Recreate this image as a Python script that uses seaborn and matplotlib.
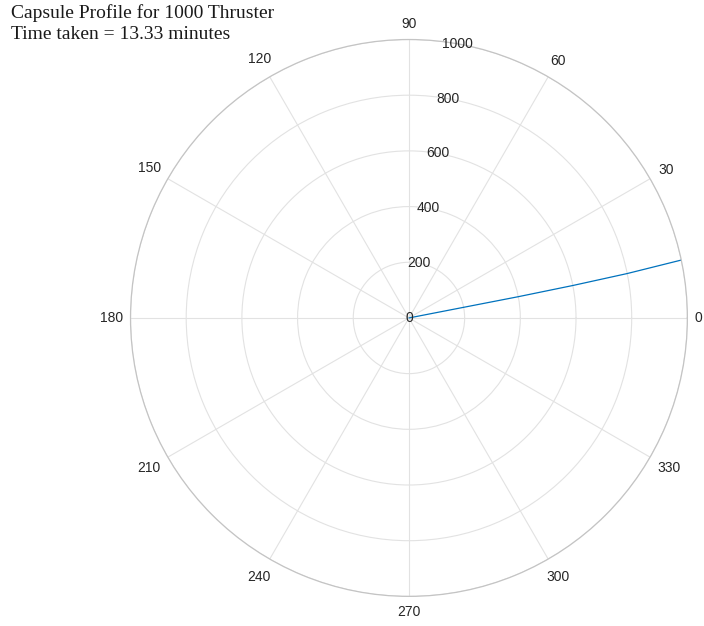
import numpy as np
import pandas as pd
import matplotlib
matplotlib.use("Agg")
import matplotlib.pyplot as plt
import seaborn as sns

# Chart text and values
title_lines = ["Capsule Profile for 1000 Thruster", "Time taken = 13.33 minutes"]
radius = [0, 200, 400, 600, 800, 1000]
angle_deg = [11.0, 11.0, 11.0, 11.2, 11.5, 12.0]
theta_ticks = [0, 30, 60, 90, 120, 150, 180, 210, 240, 270, 300, 330]
r_ticks = [0, 200, 400, 600, 800, 1000]
r_label_angle = 80

sns.set_theme(style="whitegrid")
plt.rcParams["font.family"] = ["Liberation Sans", "DejaVu Sans"]

text_color = "#262626"
grid_color = "#e2e2e2"
edge_color = "#c4c4c4"
line_color = "#0072BD"

fig = plt.figure(figsize=(7.04, 6.26), dpi=100)
fig.patch.set_facecolor("white")
ax = fig.add_axes([0.1854, 0.0471, 0.791, 0.890], projection="polar")
ax.set_facecolor("white")

df = pd.DataFrame({"theta": np.deg2rad(angle_deg), "r": radius})
sns.lineplot(data=df, x="theta", y="r", sort=False, estimator=None,
             errorbar=None, ax=ax, color=line_color, linewidth=0.9)

ax.set_ylim(0, 1000)
ax.set_xlabel("")
ax.set_ylabel("")

# angular grid; each label sits a small gap outside the outer ring,
# pushed out by its own half-extent along the spoke direction
ax.set_thetagrids(theta_ticks, labels=[""] * len(theta_ticks))
ring_px = 278.5
for t in theta_ticks:
    label = str(t)
    a = np.deg2rad(t)
    half_w = 3.9 * len(label)
    half_h = 9.0
    offset_px = 7 + abs(np.cos(a)) * half_w + abs(np.sin(a)) * half_h
    label_r = 1000 * (ring_px + offset_px) / ring_px
    ax.text(a, label_r, label, ha="center", va="center",
            fontsize=10, color=text_color, clip_on=False)

# radial grid with labels along the 80 degree spoke
ax.set_rticks(r_ticks)
ax.set_yticklabels([])
for r in r_ticks:
    ax.text(np.deg2rad(r_label_angle), r, str(r), ha="center", va="center",
            fontsize=10, color=text_color, zorder=5)

ax.grid(True, color=grid_color, linewidth=0.8)
ax.spines["polar"].set_color(edge_color)
ax.spines["polar"].set_linewidth(0.9)

fig.text(0.016, 0.994, "\n".join(title_lines), ha="left", va="top",
         fontsize=14, color="#1a1a1a", family=["Liberation Serif", "DejaVu Serif"],
         linespacing=1.3)

fig.savefig("out.png", dpi=100, facecolor="white")
